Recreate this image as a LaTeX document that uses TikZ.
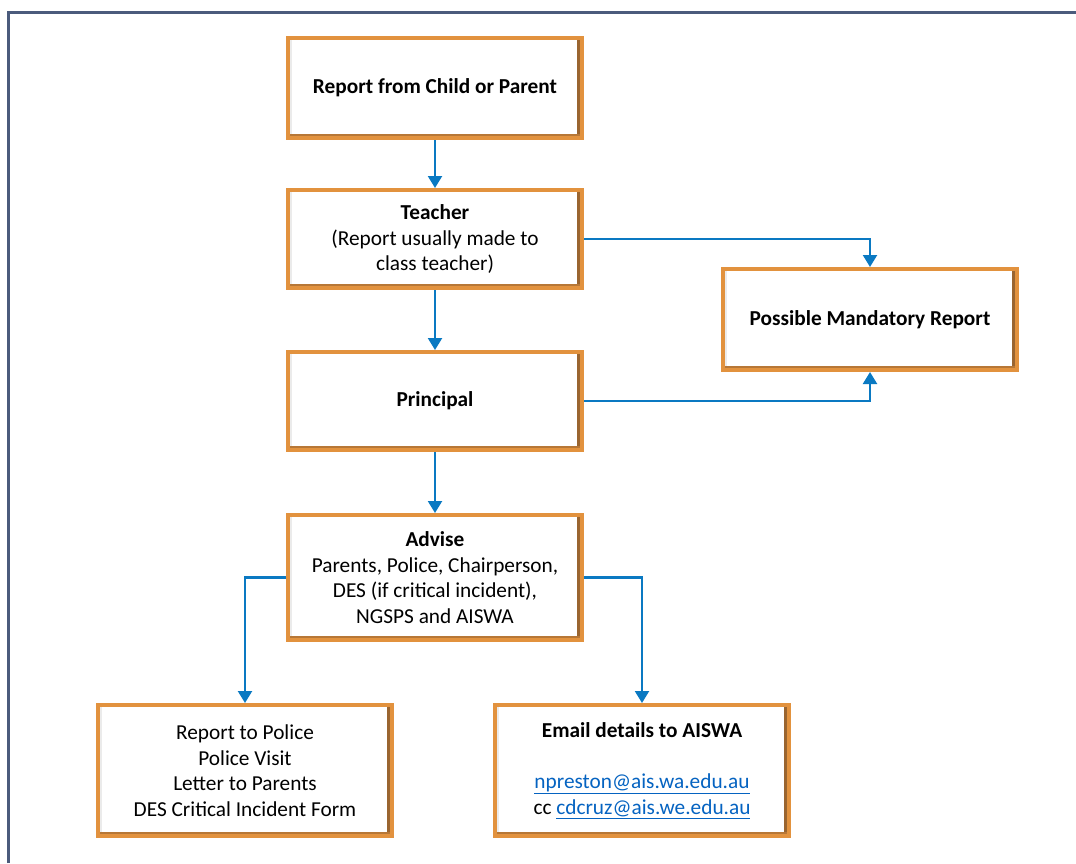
\documentclass[tikz,border=0pt]{standalone}
\usepackage{fontspec}
\setmainfont{Carlito}
\usetikzlibrary{arrows.meta}
\definecolor{frameblue}{HTML}{4B5B7C}
\definecolor{boxorange}{HTML}{E2923E}
\definecolor{boxbrown}{HTML}{9A6530}
\definecolor{arrowblue}{HTML}{0A79C2}
\definecolor{linkblue}{HTML}{0563C1}
\tikzset{
  x=1pt,y=-1pt,
  flowbox/.style={draw=boxorange, line width=4pt, fill=white, minimum width=294pt,
    align=center, font=\fontsize{21.3}{25.5}\selectfont, inner sep=0pt,
    path picture={
      \fill[boxbrown] ([xshift=-5pt]path picture bounding box.north east) rectangle (path picture bounding box.south east);
      \fill[boxbrown!60!boxorange] ([yshift=4pt]path picture bounding box.south west) rectangle (path picture bounding box.south east);
      \fill[black!8] ([xshift=2pt,yshift=-2pt]path picture bounding box.north west) rectangle ([xshift=4pt,yshift=4pt]path picture bounding box.south west);
    }},
  flow/.style={draw=arrowblue, line width=2.2pt, -{Triangle[width=14pt,length=12pt]}},
}
\newcommand{\lnk}[1]{{\color{linkblue}\underline{#1}}}
\begin{document}
\begin{tikzpicture}
\useasboundingbox (0,0) rectangle (1076,863);
\draw[frameblue, line width=3pt] (8,863) -- (8,12) -- (1076,12);

\node[flowbox, minimum height=100pt] (child) at (435,88) {\textbf{Report from Child or Parent}};
\node[flowbox, minimum height=98pt] (teacher) at (435,239) {\textbf{Teacher}\\(Report usually made to\\class teacher)};
\node[flowbox, minimum height=98pt] (principal) at (435,401) {\textbf{Principal}};
\node[flowbox, minimum height=125pt] (advise) at (435,577.5) {\textbf{Advise}\\Parents, Police, Chairperson,\\DES (if critical incident),\\NGSPS and AISWA};
\node[flowbox, minimum height=101pt] (pmr) at (870,319.5) {\textbf{Possible Mandatory Report}};
\node[flowbox, minimum height=131pt] (police) at (245,770.5) {Report to Police\\Police Visit\\Letter to Parents\\DES Critical Incident Form};
\node[flowbox, minimum height=131pt] (email) at (642,770.5) {\textbf{Email details to AISWA}\\[25.5pt]\lnk{npreston@ais.wa.edu.au}\\cc \lnk{cdcruz@ais.we.edu.au}};

\draw[flow] (child) -- (teacher);
\draw[flow] (teacher) -- (principal);
\draw[flow] (principal) -- (advise);
\draw[flow] (teacher.east) -| (pmr.north);
\draw[flow] (principal.east) -| (pmr.south);
\draw[flow] (advise.west) -| (police.north);
\draw[flow] (advise.east) -| (email.north);
\end{tikzpicture}
\end{document}
